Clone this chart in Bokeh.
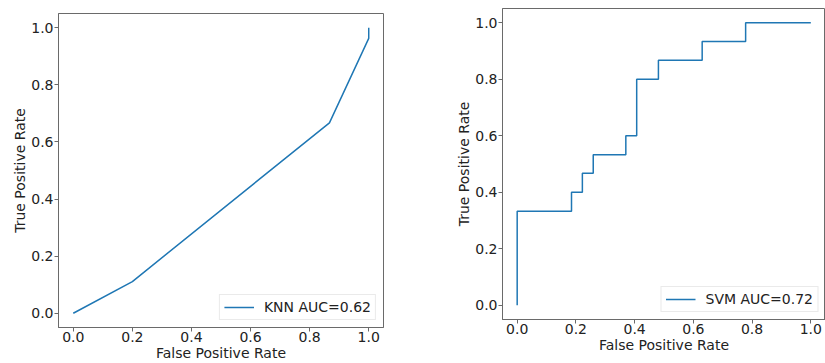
from bokeh.plotting import figure
from bokeh.layouts import row, column
from bokeh.models import Range1d, FixedTicker, NumeralTickFormatter, Legend, LegendItem
from bokeh.embed import file_html
from bokeh.resources import INLINE

# ---- data ----
knn_fpr = [0.0, 0.2, 0.867, 1.0, 1.0]
knn_tpr = [0.0, 0.111, 0.667, 0.963, 1.0]
knn_label = "KNN AUC=0.62"

svm_fpr = [0.0, 0.0, 0.185, 0.185, 0.222, 0.222, 0.259, 0.259, 0.370, 0.370,
           0.407, 0.407, 0.481, 0.481, 0.630, 0.630, 0.778, 0.778, 1.0]
svm_tpr = [0.0, 0.333, 0.333, 0.400, 0.400, 0.467, 0.467, 0.533, 0.533, 0.600,
           0.600, 0.800, 0.800, 0.867, 0.867, 0.933, 0.933, 1.0, 1.0]
svm_label = "SVM AUC=0.72"

ticks = [0.0, 0.2, 0.4, 0.6, 0.8, 1.0]
x_title = "False Positive Rate"
y_title = "True Positive Rate"

LINE = "#1f77b4"
SPINE = "#6a6a6a"
TEXT = "#222222"
FONT = "DejaVu Sans"
FS = "14px"


def make(xs, ys, label, width, height, mb_left, mb_right, mb_top, mb_bottom):
    p = figure(width=width, height=height, output_backend="svg", toolbar_location=None,
               x_range=Range1d(-0.05, 1.05), y_range=Range1d(-0.05, 1.05),
               min_border_left=mb_left, min_border_right=mb_right,
               min_border_top=mb_top, min_border_bottom=mb_bottom)
    r = p.line(xs, ys, line_color=LINE, line_width=1.5)
    p.grid.visible = False
    p.outline_line_color = SPINE
    p.outline_line_width = 1
    p.outline_line_alpha = 1
    for ax in (p.xaxis[0], p.yaxis[0]):
        ax.ticker = FixedTicker(ticks=ticks)
        ax.formatter = NumeralTickFormatter(format="0.0")
        ax.axis_line_color = SPINE
        ax.major_tick_line_color = SPINE
        ax.major_tick_in = 0
        ax.major_tick_out = 4
        ax.minor_tick_line_color = None
        ax.major_label_text_font = FONT
        ax.major_label_text_font_size = FS
        ax.major_label_text_color = TEXT
        ax.axis_label_text_font = FONT
        ax.axis_label_text_font_size = FS
        ax.axis_label_text_font_style = "normal"
        ax.axis_label_text_color = TEXT
        ax.axis_label_standoff = 0
    p.xaxis.major_label_standoff = 0
    p.yaxis.major_label_standoff = 1
    p.xaxis.axis_label = x_title
    p.yaxis.axis_label = y_title
    legend = Legend(items=[LegendItem(label=label, renderers=[r])],
                    location="bottom_right")
    legend.label_text_font = FONT
    legend.label_text_font_size = FS
    legend.label_text_color = TEXT
    legend.border_line_color = "#d6d6d6"
    legend.border_line_width = 1
    legend.background_fill_alpha = 0.8
    legend.glyph_width = 30
    legend.glyph_height = 16
    legend.label_height = 16
    legend.label_standoff = 10
    legend.padding = 4
    legend.margin = 7
    legend.spacing = 0
    p.add_layout(legend, "center")
    p.background_fill_color = "white"
    p.border_fill_color = "white"
    return p


p1 = make(knn_fpr, knn_tpr, knn_label, 430, 363, 58, 47, 13, 0)
p2 = make(svm_fpr, svm_tpr, svm_label, 395, 363, 72, 0, 8, 44)

layout = row(column(p1), column(p2), spacing=0)
open("out.html", "w").write(file_html(layout, INLINE))
